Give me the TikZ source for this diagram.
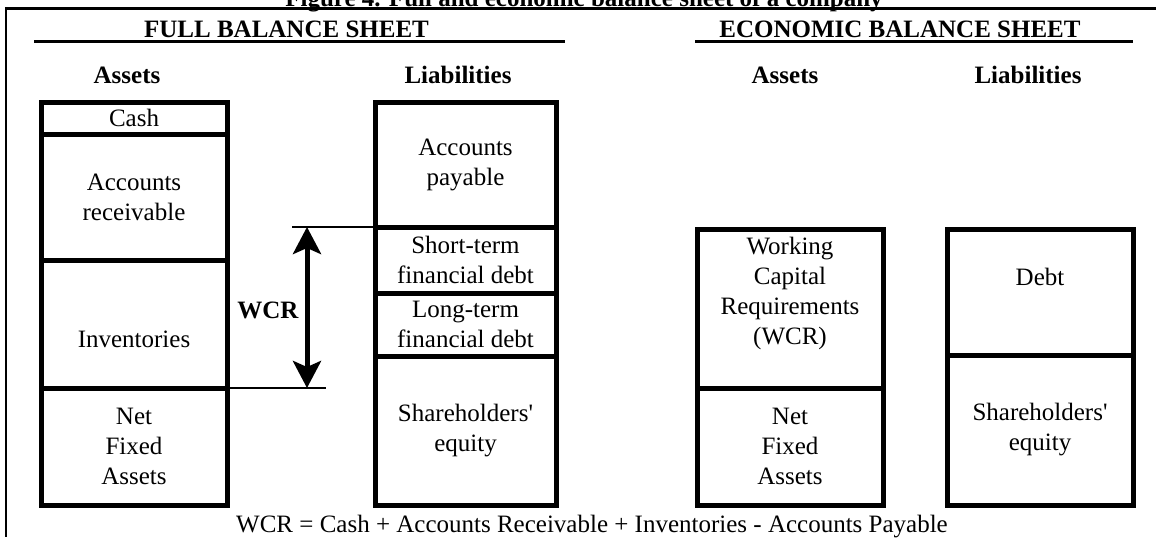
\documentclass[tikz,border=0pt]{standalone}
\usepackage{fontspec}
\setmainfont{Liberation Serif}
\usetikzlibrary{arrows.meta}

\begin{document}
\begin{tikzpicture}[x=0.5pt, y=-0.5pt,
  every node/.style = {inner sep=0pt, outer sep=0pt, align=center,
    font=\fontsize{12.5}{15}\selectfont},
  cell/.style = {draw, line width=2.5pt, minimum width=93pt},
  narrow/.style = {minimum width=90.5pt},
  head/.style = {anchor=base, font=\fontsize{12.5}{15}\selectfont\bfseries},
  rule/.style = {line width=1.5pt},
  marker/.style = {line width=1pt},
  span/.style = {line width=2.5pt,
    {Stealth[length=13.5pt,width=14pt,inset=3pt]}-{Stealth[length=13.5pt,width=14pt,inset=3pt]}}]
  \useasboundingbox (0,0) rectangle (1156,537);
  % frame and titles
  \draw[marker] (6,8.3) -- (6,537);
  \draw[rule] (5,8.3) -- (1156,8.3);
  \node[head] (title) at (584,6) {Figure 4. Full and economic balance sheet of a company};
  \node[head] (fullhd) at (286.5,37) {FULL BALANCE SHEET};
  \node[head] (econhd) at (900,37) {ECONOMIC BALANCE SHEET};
  \draw[rule] (34,41.5) -- (565,41.5);
  \draw[rule] (695,41.5) -- (1133,41.5);
  \node[head] (fullA) at (127,83) {Assets};
  \node[head] (fullL) at (458,83) {Liabilities};
  \node[head] (econA) at (785,83) {Assets};
  \node[head] (econL) at (1028,83) {Liabilities};
  % full balance sheet
  \node[cell, minimum height=16pt] (cash) at (134,118) {Cash};
  \node[cell, minimum height=63pt] (ar) at (134,197) {Accounts\\receivable};
  \node[cell, minimum height=64pt] (inv) at (134,324) {};
  \node (invtxt) at (134,339) {Inventories};
  \node[cell, minimum height=58.5pt] (nfa) at (134,446.5) {Net\\Fixed\\Assets};
  \node[cell, narrow, minimum height=62.5pt] (ap) at (465.5,164.5) {Accounts\\payable};
  \node[cell, narrow, minimum height=33pt] (st) at (465.5,260) {Short-term\\financial debt};
  \node[cell, narrow, minimum height=31.5pt] (lt) at (465.5,324.5) {Long-term\\financial debt};
  \node[cell, narrow, minimum height=74.5pt] (se) at (465.5,430.5) {Shareholders\textquotesingle\\equity};
  % WCR span
  \coordinate (wtop) at (292,227);
  \coordinate (wbot) at (326,388);
  \coordinate (atop) at (307,227);
  \coordinate (abot) at (307,388);
  \draw[marker] (wtop) -- (st.north west);
  \draw[marker] (inv.south east) -- (wbot);
  \draw[span] (atop) -- (abot);
  \node[font=\fontsize{12.5}{15}\selectfont\bfseries] (wcrlbl) at (268,310) {WCR};
  % economic balance sheet
  \node[cell, minimum height=79.5pt] (wcr) at (790,308.5) {};
  \node (wcrtxt) at (790,293) {Working\\Capital\\Requirements\\(WCR)};
  \node[cell, minimum height=58.5pt] (nfa2) at (790,446.5) {Net\\Fixed\\Assets};
  \node[cell, minimum height=63pt] (debt) at (1040,292) {};
  \node (debttxt) at (1040,277) {Debt};
  \node[cell, minimum height=75pt] (se2) at (1040,430) {Shareholders\textquotesingle\\equity};
  \node[anchor=base] (formula) at (592,532) {WCR = Cash + Accounts Receivable + Inventories - Accounts Payable};
\end{tikzpicture}
\end{document}
